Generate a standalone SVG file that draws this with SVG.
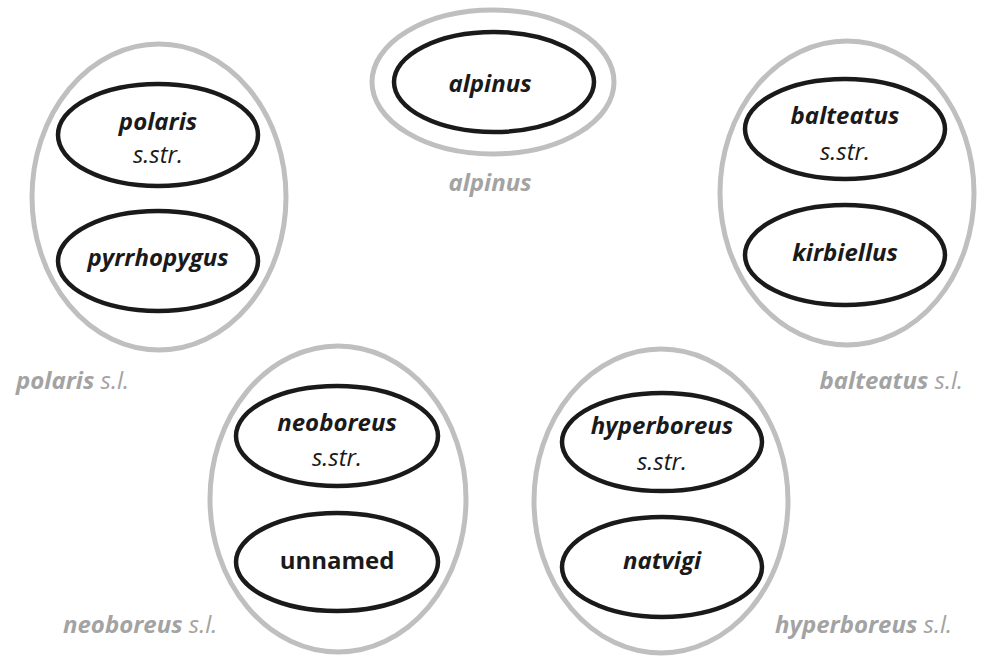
<svg xmlns="http://www.w3.org/2000/svg" width="984" height="658" viewBox="0 0 984 658">
<style>
.outer{fill:none;stroke:#bfbfbf;stroke-width:5}
.inner{fill:#fff;stroke:#1a1a1a;stroke-width:4.5}
.t{font-family:"Open Sans","Liberation Sans",sans-serif;font-size:24px;fill:#1a1a1a;text-anchor:middle}
.bi{font-weight:bold;font-style:italic}
.i{font-style:italic}
.b{font-weight:bold}
.lbl{font-family:"Open Sans","Liberation Sans",sans-serif;font-size:24px;fill:#a3a3a3}
</style>
<rect width="984" height="658" fill="#fff"/>
<g id="polaris-sl">
<ellipse class="outer" cx="159" cy="197" rx="127" ry="153"/>
<text class="lbl" x="16" y="389"><tspan class="bi">polaris</tspan><tspan class="i"> s.l.</tspan></text>
</g>
<g id="polaris-sstr">
<ellipse class="inner" cx="158" cy="135" rx="100" ry="51"/>
<text class="t bi" x="158" y="130">polaris</text>
<text class="t i" x="158" y="163">s.str.</text>
</g>
<g id="pyrrhopygus">
<ellipse class="inner" cx="158" cy="261" rx="100" ry="50"/>
<text class="t bi" x="158" y="266">pyrrhopygus</text>
</g>
<g id="alpinus-sl">
<ellipse class="outer" cx="493" cy="82" rx="121" ry="72"/>
<text class="lbl bi" x="490" y="191" text-anchor="middle">alpinus</text>
</g>
<g id="alpinus">
<ellipse class="inner" cx="494" cy="82" rx="100" ry="50"/>
<text class="t bi" x="490" y="92">alpinus</text>
</g>
<g id="balteatus-sl">
<ellipse class="outer" cx="847" cy="193" rx="127" ry="152"/>
<text class="lbl" x="963" y="389" text-anchor="end"><tspan class="bi">balteatus</tspan><tspan class="i"> s.l.</tspan></text>
</g>
<g id="balteatus-sstr">
<ellipse class="inner" cx="845" cy="129" rx="100" ry="50"/>
<text class="t bi" x="845" y="124">balteatus</text>
<text class="t i" x="845" y="160">s.str.</text>
</g>
<g id="kirbiellus">
<ellipse class="inner" cx="845" cy="255" rx="100" ry="50"/>
<text class="t bi" x="845" y="261">kirbiellus</text>
</g>
<g id="neoboreus-sl">
<ellipse class="outer" cx="338" cy="499" rx="128" ry="153"/>
<text class="lbl" x="63" y="633"><tspan class="bi">neoboreus</tspan><tspan class="i"> s.l.</tspan></text>
</g>
<g id="neoboreus-sstr">
<ellipse class="inner" cx="337" cy="436" rx="101" ry="50"/>
<text class="t bi" x="337" y="431">neoboreus</text>
<text class="t i" x="337" y="466">s.str.</text>
</g>
<g id="unnamed">
<ellipse class="inner" cx="337" cy="562" rx="101" ry="49"/>
<text class="t b" x="337" y="569">unnamed</text>
</g>
<g id="hyperboreus-sl">
<ellipse class="outer" cx="661" cy="501" rx="127" ry="152"/>
<text class="lbl" x="952" y="633" text-anchor="end"><tspan class="bi">hyperboreus</tspan><tspan class="i"> s.l.</tspan></text>
</g>
<g id="hyperboreus-sstr">
<ellipse class="inner" cx="662" cy="442" rx="100" ry="49"/>
<text class="t bi" x="662" y="434">hyperboreus</text>
<text class="t i" x="662" y="470">s.str.</text>
</g>
<g id="natvigi">
<ellipse class="inner" cx="662" cy="567" rx="100" ry="50"/>
<text class="t bi" x="662" y="569">natvigi</text>
</g>
<g id="connectors"></g>
</svg>
